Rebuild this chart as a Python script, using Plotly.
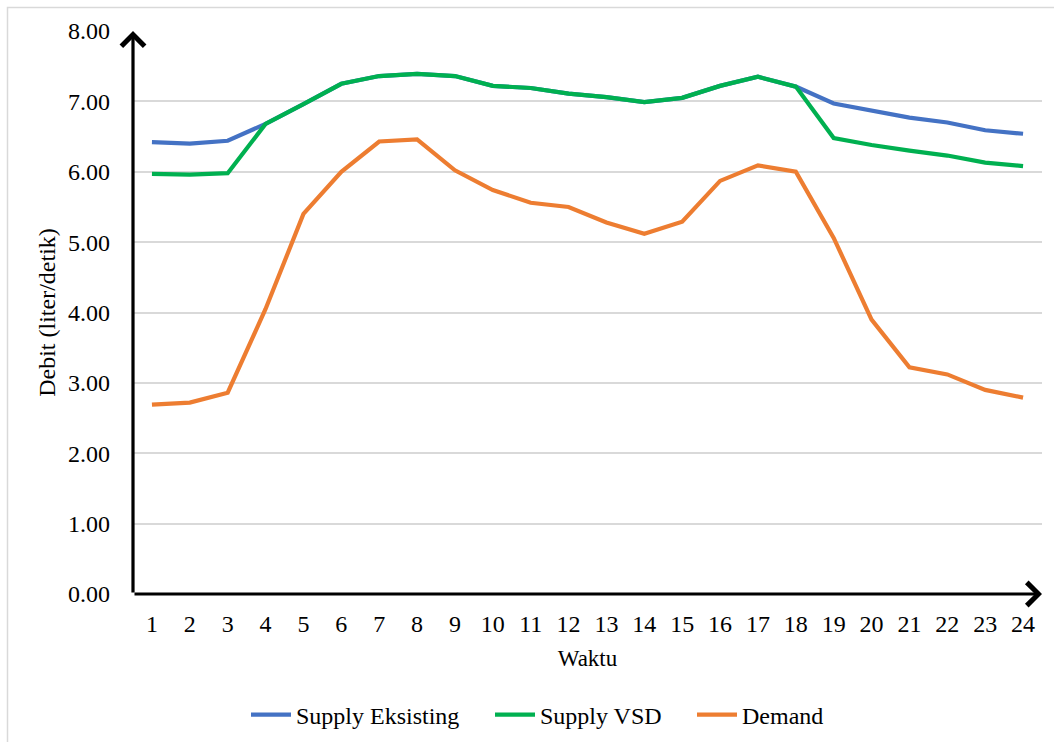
import plotly.graph_objects as go

# Hourly flow data (liter/detik)
waktu = list(range(1, 25))
supply_eksisting = [6.42, 6.40, 6.44, 6.68, 6.96, 7.25, 7.36, 7.39, 7.36, 7.22, 7.19, 7.11,
                    7.06, 6.99, 7.05, 7.22, 7.35, 7.21, 6.97, 6.87, 6.77, 6.70, 6.59, 6.54]
supply_vsd = [5.97, 5.96, 5.98, 6.68, 6.96, 7.25, 7.36, 7.39, 7.36, 7.22, 7.19, 7.11,
              7.06, 6.99, 7.05, 7.22, 7.35, 7.21, 6.48, 6.38, 6.30, 6.23, 6.13, 6.08]
demand = [2.69, 2.72, 2.86, 4.05, 5.40, 6.00, 6.43, 6.46, 6.02, 5.74, 5.56, 5.50,
          5.28, 5.12, 5.29, 5.87, 6.09, 6.00, 5.06, 3.90, 3.22, 3.12, 2.90, 2.79]
y_ticks = [0, 1, 2, 3, 4, 5, 6, 7, 8]

FONT = "'Liberation Serif', 'Times New Roman', 'DejaVu Serif', serif"
FS = 24
W, H = 1054, 742
L, R, T, B = 133, 12, 31, 148

fig = go.Figure()
series = [
    ("Supply Eksisting", supply_eksisting, "#4472C4", "legend", 252),
    ("Supply VSD", supply_vsd, "#00B050", "legend2", 496),
    ("Demand", demand, "#ED7D31", "legend3", 698),
]
legend_layout = {}
for name, vals, color, leg, left_px in series:
    fig.add_trace(go.Scatter(
        x=waktu, y=vals, name=name, mode="lines", legend=leg,
        line=dict(color=color, width=4.2), cliponaxis=False,
    ))
    legend_layout[leg] = dict(
        orientation="h", xref="container", yref="container",
        x=(left_px - 6) / W, xanchor="left",
        y=1 - 715 / H, yanchor="middle",
        font=dict(family=FONT, size=FS, color="black"),
        itemwidth=40, bgcolor="rgba(0,0,0,0)",
    )

plot_w = W - L - R
plot_h = H - T - B

# Axis lines with arrowheads
fig.add_annotation(
    xref="paper", yref="paper", x=1.0, y=0, ax=-plot_w, ay=0, axref="pixel", ayref="pixel",
    showarrow=True, arrowhead=4, arrowsize=1.4, arrowwidth=3.2, arrowcolor="black", text="",
)
fig.add_annotation(
    xref="paper", yref="paper", x=0, y=1.0, ax=0, ay=plot_h, axref="pixel", ayref="pixel",
    showarrow=True, arrowhead=4, arrowsize=1.4, arrowwidth=3.2, arrowcolor="black", text="",
)

# Light outer frame of the chart
fig.add_shape(
    type="rect", xref="paper", yref="paper",
    x0=(7.5 - L) / plot_w, x1=(W + 5 - L) / plot_w,
    y0=(H - B - (H + 5)) / plot_h, y1=(H - B - 7.5) / plot_h,
    line=dict(color="#d9d9d9", width=1.5), fillcolor="rgba(0,0,0,0)", layer="below",
)

fig.update_layout(
    width=W, height=H,
    margin=dict(l=L, r=R, t=T, b=B, autoexpand=False),
    paper_bgcolor="white", plot_bgcolor="white",
    font=dict(family=FONT, size=FS, color="black"),
    showlegend=True,
    xaxis=dict(
        range=[0.5, 24.5], tickmode="array", tickvals=waktu,
        ticktext=[str(w) for w in waktu],
        tickfont=dict(family=FONT, size=FS, color="black"),
        showgrid=False, zeroline=False, showline=False, ticks="",
        ticklabelstandoff=13, automargin=False,
        title=dict(text="Waktu", font=dict(family=FONT, size=23), standoff=13),
    ),
    yaxis=dict(
        range=[0, 8], tickmode="array", tickvals=y_ticks,
        ticktext=[f"{v:.2f}" for v in y_ticks],
        tickfont=dict(family=FONT, size=FS, color="black"),
        showgrid=True, gridcolor="#d9d9d9", gridwidth=1.5,
        zeroline=False, showline=False, ticks="",
        ticklabelstandoff=22, automargin=False,
        title=dict(text="Debit (liter/detik)", font=dict(family=FONT, size=FS), standoff=5),
    ),
    **legend_layout,
)

fig.write_html("out.html")
